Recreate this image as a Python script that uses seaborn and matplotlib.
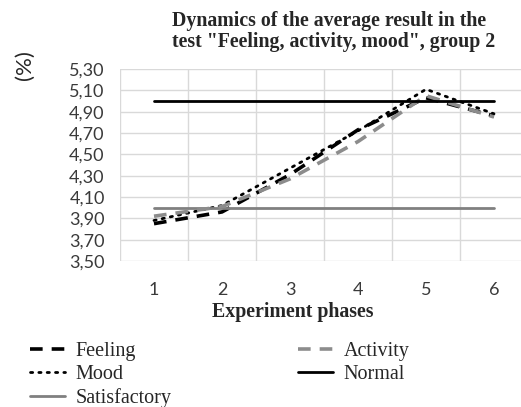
import matplotlib
matplotlib.use('Agg')
import matplotlib.pyplot as plt
import seaborn as sns

# Data
phases = [1, 2, 3, 4, 5, 6]
feeling = [3.85, 3.96, 4.31, 4.73, 5.03, 4.86]
activity = [3.92, 4.01, 4.27, 4.62, 5.05, 4.85]
mood = [3.88, 4.02, 4.37, 4.72, 5.11, 4.88]
normal = [5.00, 5.00, 5.00, 5.00, 5.00, 5.00]
satisfactory = [4.00, 4.00, 4.00, 4.00, 4.00, 4.00]
y_ticks = [3.50, 3.70, 3.90, 4.10, 4.30, 4.50, 4.70, 4.90, 5.10, 5.30]

sns.set_style('white')

fig = plt.figure(figsize=(5.21, 4.07), dpi=100)
ax = fig.add_axes([120 / 521, 146 / 407, 408 / 521, 192 / 407])

sns.lineplot(x=phases, y=feeling, ax=ax, color='black', lw=2.6,
             linestyle=(0, (3.5, 2.5)), label='Feeling')
sns.lineplot(x=phases, y=mood, ax=ax, color='black', lw=2.0,
             linestyle=(0, (0.8, 2.2)), dash_capstyle='round', label='Mood')
sns.lineplot(x=phases, y=satisfactory, ax=ax, color='#808080', lw=2.0,
             label='Satisfactory')
sns.lineplot(x=phases, y=activity, ax=ax, color='#8c8c8c', lw=2.6,
             linestyle=(0, (3.5, 2.5)), label='Activity')
sns.lineplot(x=phases, y=normal, ax=ax, color='black', lw=2.0,
             label='Normal')

ax.set_xlim(0.5, 6.5)
ax.set_ylim(3.50, 5.30)
ax.set_yticks(y_ticks)
ax.set_yticklabels([f'{v:.2f}'.replace('.', ',') for v in y_ticks],
                   family='Lato', fontsize=13, color='#3a3a3a')
ax.set_xticks(phases)
ax.set_xticklabels([str(p) for p in phases], family='Lato', fontsize=13,
                   color='#3a3a3a')
ax.set_xticks([0.5, 1.5, 2.5, 3.5, 4.5, 5.5, 6.5], minor=True)
ax.tick_params(axis='y', length=0, pad=11)
ax.tick_params(axis='x', which='both', length=0, pad=15)
ax.grid(axis='y', color='#d9d9d9', lw=1)
ax.grid(axis='x', which='minor', color='#d9d9d9', lw=1)
ax.grid(axis='x', which='major', visible=False)
for s in ax.spines.values():
    s.set_visible(False)

handles, labels = ax.get_legend_handles_labels()
ax.get_legend().remove()
fig.legend(handles, labels, ncol=2, loc='upper left',
           bbox_to_anchor=(30 / 521, 1 - 342 / 407), frameon=False,
           prop={'family': 'Liberation Serif', 'size': 14.5},
           handlelength=1.75, handletextpad=0.5, columnspacing=6.3,
           labelspacing=0.2, borderaxespad=0, borderpad=0)

fig.text(172 / 521, 1 - 11 / 407,
         'Dynamics of the average result in the\n'
         'test "Feeling, activity, mood", group 2',
         ha='left', va='top', family='Liberation Serif',
         fontweight='bold', fontsize=14.3, linespacing=1.05)
fig.text(293 / 521, 1 - 312 / 407, 'Experiment phases', ha='center',
         va='center', family='Liberation Serif', fontweight='bold',
         fontsize=14.3)
fig.text(25 / 521, 1 - 65 / 407, '(%)', ha='center', va='center',
         rotation=90, family='Lato', fontsize=16)

fig.savefig('out.png', dpi=100)
